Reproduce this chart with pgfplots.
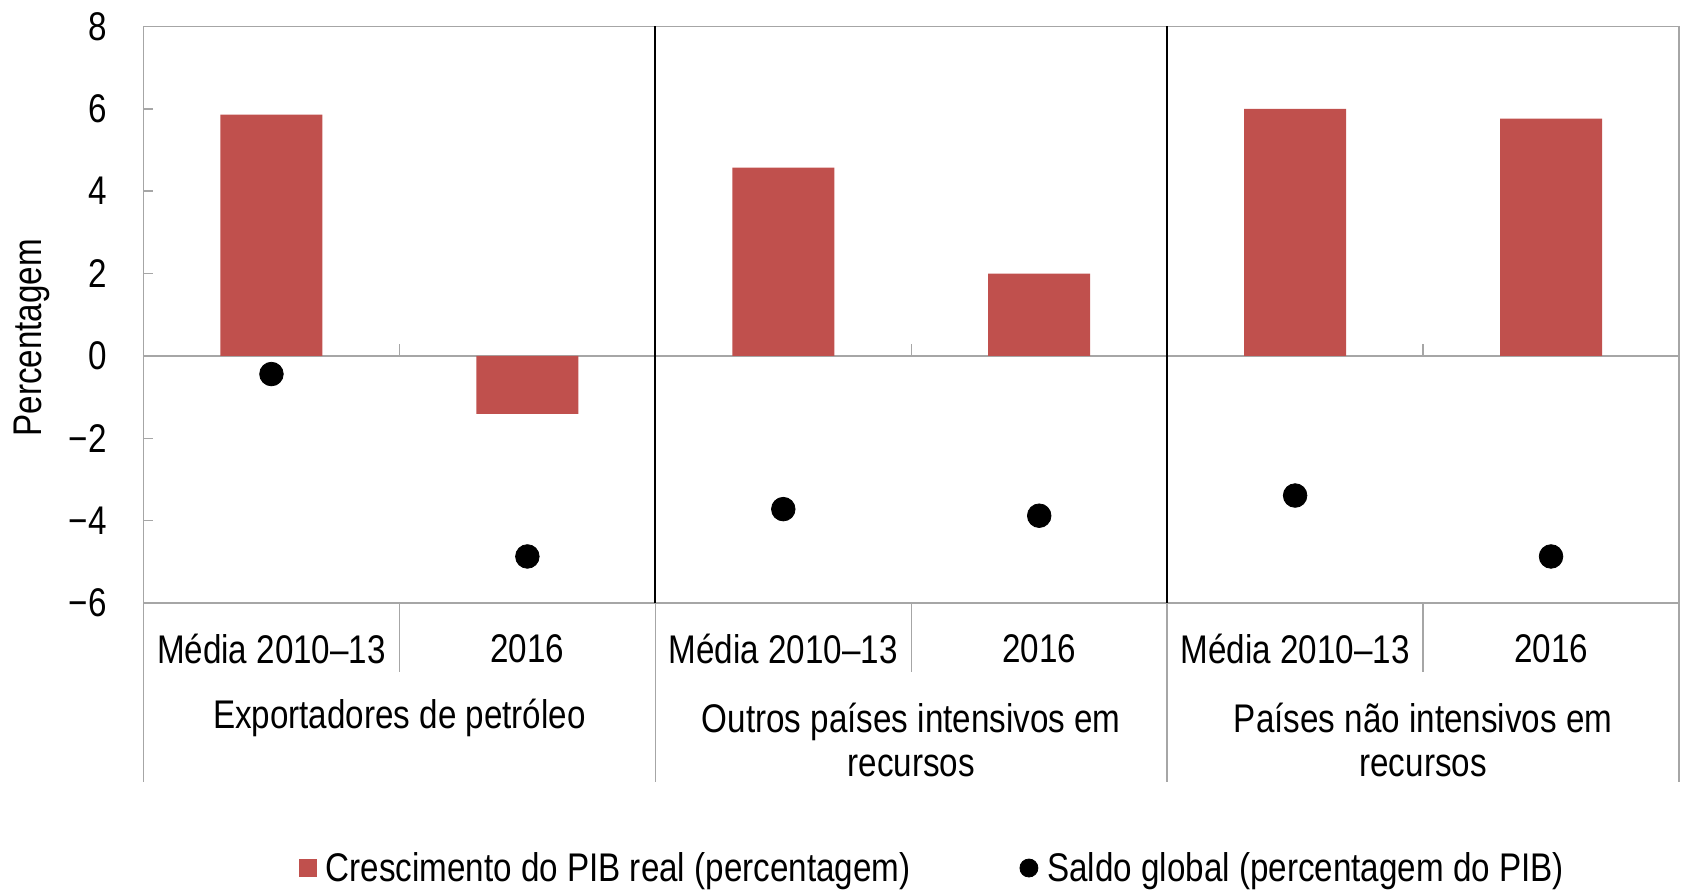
\documentclass[border=0pt]{standalone}
\usepackage{pgfplots}
\pgfplotsset{compat=1.18}
\usepackage{fontspec}
\setmainfont{Liberation Sans}[FakeStretch=0.83]
\definecolor{barred}{RGB}{192,80,77}
\definecolor{axgray}{RGB}{166,166,166}
\begin{document}
\begin{tikzpicture}[font=\fontsize{20bp}{22bp}\selectfont]
\useasboundingbox (-71.75bp,-143.5bp) rectangle (768.75bp,301.5bp);
\begin{axis}[
 at={(0,0)}, anchor=south west,
 scale only axis, width=767.75bp, height=288.25bp,
 xmin=-0.5, xmax=5.5, ymin=-6, ymax=8,
 xtick=\empty,
 ytick={-6,-4,-2,0,2,4,6,8},
 yticklabels={−6,−4,−2,0,2,4,6,8},
 ytick pos=left,
 yticklabel style={inner sep=0pt, xshift=-18.25bp, font=\fontsize{20bp}{22bp}\selectfont},
 axis line style={axgray, line width=0.75bp},
 major tick style={axgray, line width=0.75bp},
 major tick length=5bp,
 tick align=inside,
 clip=false,
 ylabel={Percentagem},
 ylabel style={at={(axis description cs:-0.0726,0.46)}, anchor=center, font=\fontsize{20bp}{22bp}\selectfont},
 legend style={at={(axis description cs:0.516,-0.4597)}, anchor=center, draw=none, fill=none,
   legend columns=2, /tikz/every even column/.append style={column sep=50bp},
   font=\fontsize{20bp}{22bp}\selectfont, inner sep=0pt, nodes={inner xsep=4.5bp}},
 legend cell align=left,
]
\draw[axgray, line width=0.75bp] (axis cs:-0.5,0) -- (axis cs:5.5,0);
\addplot[ybar, bar width=51bp, fill=barred, draw=none,
  legend image code/.code={\fill[barred] (0bp,-4.5bp) rectangle (9bp,4.5bp);}]
  coordinates {(0,5.86) (1,-1.41) (2,4.57) (3,2.0) (4,6.0) (5,5.76)};
\addlegendentry{Crescimento do PIB real (percentagem)}
\addplot[only marks, mark=*, mark size=5.9bp, black,
  legend image code/.code={\fill[black] (4.5bp,0) circle (4.5bp);}]
  coordinates {(0,-0.44) (1,-4.87) (2,-3.72) (3,-3.88) (4,-3.39) (5,-4.87)};
\addlegendentry{Saldo global (percentagem do PIB)}
\draw[black, line width=1bp] (axis cs:1.5,-6) -- (axis cs:1.5,8);
\draw[black, line width=1bp] (axis cs:3.5,-6) -- (axis cs:3.5,8);
\draw[axgray, line width=0.75bp] (axis cs:-0.5,-6) -- ([yshift=-89.5bp]axis cs:-0.5,-6);
\draw[axgray, line width=0.75bp] (axis cs:1.5,-6) -- ([yshift=-89.5bp]axis cs:1.5,-6);
\draw[axgray, line width=0.75bp] (axis cs:3.5,-6) -- ([yshift=-89.5bp]axis cs:3.5,-6);
\draw[axgray, line width=0.75bp] (axis cs:5.5,-6) -- ([yshift=-89.5bp]axis cs:5.5,-6);
\draw[axgray, line width=0.75bp] (axis cs:0.5,-6) -- ([yshift=-34.5bp]axis cs:0.5,-6);
\draw[axgray, line width=0.75bp] (axis cs:2.5,-6) -- ([yshift=-34.5bp]axis cs:2.5,-6);
\draw[axgray, line width=0.75bp] (axis cs:4.5,-6) -- ([yshift=-34.5bp]axis cs:4.5,-6);
\draw[axgray, line width=0.75bp] (axis cs:0.5,0) -- ([yshift=6bp]axis cs:0.5,0);
\draw[axgray, line width=0.75bp] (axis cs:2.5,0) -- ([yshift=6bp]axis cs:2.5,0);
\draw[axgray, line width=0.75bp] (axis cs:4.5,0) -- ([yshift=6bp]axis cs:4.5,0);
\node at (axis cs:0,-6) [yshift=-23bp] {Média 2010–13};
\node at (axis cs:1,-6) [yshift=-23bp] {2016};
\node at (axis cs:2,-6) [yshift=-23bp] {Média 2010–13};
\node at (axis cs:3,-6) [yshift=-23bp] {2016};
\node at (axis cs:4,-6) [yshift=-23bp] {Média 2010–13};
\node at (axis cs:5,-6) [yshift=-23bp] {2016};
\node[align=center] at (axis cs:0.5,-6) [yshift=-57.5bp] {Exportadores de petróleo};
\node[align=center] at (axis cs:2.5,-6) [yshift=-68.5bp] {Outros países intensivos em\\recursos};
\node[align=center] at (axis cs:4.5,-6) [yshift=-68.5bp] {Países não intensivos em\\recursos};
\end{axis}
\end{tikzpicture}
\end{document}
